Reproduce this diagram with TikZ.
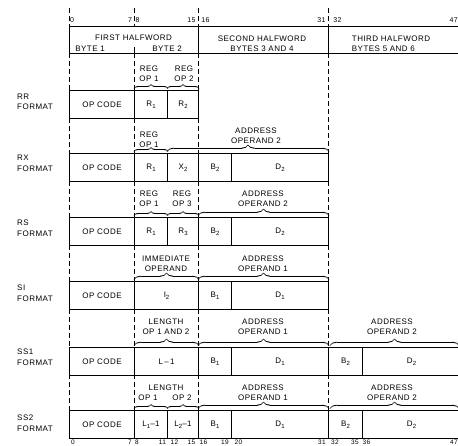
\documentclass[tikz,border=0pt]{standalone}
\usepackage{fontspec}
\setmainfont{Liberation Sans}[LetterSpace=6]
\usetikzlibrary{decorations.pathreplacing,calligraphy}
\newcommand{\lowsub}[1]{\raisebox{-2.2pt}{\fontsize{6}{6}\selectfont #1}}
\begin{document}
\begin{tikzpicture}[x=1pt,y=-1pt,
  every node/.style={font=\fontsize{8}{10}\selectfont, inner sep=0pt},
  cell/.style={draw, line width=1.1pt, minimum height=28pt, anchor=north west},
  hdr/.style={draw, line width=1.1pt, minimum height=27pt, anchor=north west},
  note/.style={align=center},
  lab/.style={align=left, anchor=west, font=\fontsize{8}{10.5}\selectfont},
  tick/.style={font=\fontsize{7}{8}\selectfont},
  dl/.style={line width=1pt, dash pattern=on 5pt off 3pt},
  br/.style={decorate, decoration={calligraphic brace, amplitude=#1}, line width=1.1pt},
  br/.default=6.5pt]
\useasboundingbox (0,0) rectangle (458,445);
\clip (0,0) rectangle (458,445);

% ---------- header ----------
\node[hdr, minimum width=129pt] (hw1) at (69,26) {};
\node[hdr, minimum width=130pt] (hw2) at (198,26) {};
\node[hdr, minimum width=132pt] (hw3) at (328,26) {};
\node (hw1t) at (133.5,38) {FIRST HALFWORD};
\node (hw1a) at (90,49) {BYTE 1};
\node (hw1b) at (167,49) {BYTE 2};
\draw[line width=1pt] (134,47) -- (134,53);
\node[align=center] (hw2t) at (262,43.5) {SECOND HALFWORD\\BYTES 3 AND 4};
\node[align=left] (hw3t) at (391,43.5) {THIRD HALFWORD\\BYTES 5 AND 6};

% top ticks
\foreach \x in {69,134,198,328} \draw[dl] (\x,8) -- (\x,26);
\node[tick] (t0) at (72,20) {0};
\node[tick] (t7) at (130,20) {7};
\node[tick] (t8) at (137.5,20) {8};
\node[tick] (t15) at (191.5,20) {15};
\node[tick] (t16) at (205.5,20) {16};
\node[tick] (t31) at (321.5,20) {31};
\node[tick] (t32) at (337.5,20) {32};
\node[tick, anchor=east] (t47) at (458,20) {47};

% ---------- dashed guides ----------
\foreach \x in {69,134,198} \draw[dl] (\x,53) -- (\x,90);
\draw[dl] (328,53) -- (328,153);
\foreach \x in {69,134,198} \draw[dl] (\x,118) -- (\x,153);
\foreach \a/\b in {181/217,245/281,309/347,374/410}
  \foreach \x in {69,134,198,328} \draw[dl] (\x,\a) -- (\x,\b);

% ---------- RR ----------
\node[lab] (rr-l) at (17,102) {RR\\FORMAT};
\node[cell, minimum width=65pt] (rr-op) at (69,90) {OP CODE};
\node[cell, minimum width=33pt] (rr-r1) at (134,90) {R\lowsub{1}};
\node[cell, minimum width=31pt] (rr-r2) at (167,90) {R\lowsub{2}};
\node[note] (rr-n1) at (149,74) {REG\\OP 1};
\node[note] (rr-n2) at (184,74) {REG\\OP 2};
\draw[br=4pt] ([yshift=1.5pt]rr-r1.north west) -- ([yshift=1.5pt]rr-r1.north east);
\draw[br=4pt] ([yshift=1.5pt]rr-r2.north west) -- ([yshift=1.5pt]rr-r2.north east);

% ---------- RX ----------
\node[lab] (rx-l) at (17,163.5) {RX\\FORMAT};
\node[cell, minimum width=65pt] (rx-op) at (69,153) {OP CODE};
\node[cell, minimum width=33pt] (rx-r1) at (134,153) {R\lowsub{1}};
\node[cell, minimum width=31pt] (rx-x2) at (167,153) {X\lowsub{2}};
\node[cell, minimum width=33pt] (rx-b2) at (198,153) {B\lowsub{2}};
\node[cell, minimum width=97pt] (rx-d2) at (231,153) {D\lowsub{2}};
\node[note] (rx-n1) at (149,140) {REG\\OP 1};
\node[note] (rx-n2) at (256,135.5) {ADDRESS\\OPERAND 2};
\draw[br=4pt] ([yshift=1.5pt]rx-r1.north west) -- ([yshift=1.5pt]rx-r1.north east);
\draw[br] ([yshift=1.5pt]rx-x2.north west) -- ([yshift=1.5pt]rx-d2.north east);

% ---------- RS ----------
\node[lab] (rs-l) at (17,228) {RS\\FORMAT};
\node[cell, minimum width=65pt] (rs-op) at (69,217) {OP CODE};
\node[cell, minimum width=33pt] (rs-r1) at (134,217) {R\lowsub{1}};
\node[cell, minimum width=31pt] (rs-r3) at (167,217) {R\lowsub{3}};
\node[cell, minimum width=33pt] (rs-b2) at (198,217) {B\lowsub{2}};
\node[cell, minimum width=97pt] (rs-d2) at (231,217) {D\lowsub{2}};
\node[note] (rs-n1) at (149,199) {REG\\OP 1};
\node[note] (rs-n3) at (182,199) {REG\\OP 3};
\node[note] (rs-n2) at (263,199) {ADDRESS\\OPERAND 2};
\draw[br=4pt] ([yshift=1.5pt]rs-r1.north west) -- ([yshift=1.5pt]rs-r1.north east);
\draw[br=4pt] ([yshift=1.5pt]rs-r3.north west) -- ([yshift=1.5pt]rs-r3.north east);
\draw[br] ([yshift=1.5pt]rs-b2.north west) -- ([yshift=1.5pt]rs-d2.north east);

% ---------- SI ----------
\node[lab] (si-l) at (17,293) {SI\\FORMAT};
\node[cell, minimum width=65pt] (si-op) at (69,281) {OP CODE};
\node[cell, minimum width=64pt] (si-i2) at (134,281) {I\lowsub{2}};
\node[cell, minimum width=33pt] (si-b1) at (198,281) {B\lowsub{1}};
\node[cell, minimum width=97pt] (si-d1) at (231,281) {D\lowsub{1}};
\node[note] (si-n1) at (166,263.5) {IMMEDIATE\\OPERAND};
\node[note] (si-n2) at (263,263.5) {ADDRESS\\OPERAND 1};
\draw[br] ([yshift=1.5pt]si-i2.north west) -- ([yshift=1.5pt]si-i2.north east);
\draw[br] ([yshift=1.5pt]si-b1.north west) -- ([yshift=1.5pt]si-d1.north east);

% ---------- SS1 ----------
\node[lab] (ss1-l) at (17,357) {SS1\\FORMAT};
\node[cell, minimum width=65pt] (ss1-op) at (69,347) {OP CODE};
\node[cell, minimum width=64pt] (ss1-l1) at (134,347) {L\,--\,1};
\node[cell, minimum width=33pt] (ss1-b1) at (198,347) {B\lowsub{1}};
\node[cell, minimum width=97pt] (ss1-d1) at (231,347) {D\lowsub{1}};
\node[cell, minimum width=34pt] (ss1-b2) at (328,347) {B\lowsub{2}};
\node[cell, minimum width=98pt] (ss1-d2) at (362,347) {D\lowsub{2}};
\node[note] (ss1-n1) at (166,327) {LENGTH\\OP 1 AND 2};
\node[note] (ss1-n2) at (263,327) {ADDRESS\\OPERAND 1};
\node[note] (ss1-n3) at (392,327) {ADDRESS\\OPERAND 2};
\draw[br] ([yshift=1.5pt]ss1-l1.north west) -- ([yshift=1.5pt]ss1-l1.north east);
\draw[br] ([yshift=1.5pt]ss1-b1.north west) -- ([yshift=1.5pt]ss1-d1.north east);
\draw[br] ([xshift=2pt,yshift=1.5pt]ss1-b2.north west) -- ([xshift=-2pt,yshift=1.5pt]ss1-d2.north east);

% ---------- SS2 ----------
\node[lab] (ss2-l) at (17,423) {SS2\\FORMAT};
\node[cell, minimum width=65pt] (ss2-op) at (69,410) {OP CODE};
\node[cell, minimum width=33pt] (ss2-l1) at (134,410) {L\lowsub{1}--1};
\node[cell, minimum width=31pt] (ss2-l2) at (167,410) {L\lowsub{2}--1};
\node[cell, minimum width=33pt] (ss2-b1) at (198,410) {B\lowsub{1}};
\node[cell, minimum width=97pt] (ss2-d1) at (231,410) {D\lowsub{1}};
\node[cell, minimum width=34pt] (ss2-b2) at (328,410) {B\lowsub{2}};
\node[cell, minimum width=98pt] (ss2-d2) at (362,410) {D\lowsub{2}};
\node (ss2-len) at (166,388) {LENGTH};
\node (ss2-o1) at (148,398) {OP 1};
\node (ss2-o2) at (182,398) {OP 2};
\node[note] (ss2-n2) at (263,393) {ADDRESS\\OPERAND 1};
\node[note] (ss2-n3) at (392,393) {ADDRESS\\OPERAND 2};
\draw[br=4pt] ([yshift=1.5pt]ss2-l1.north west) -- ([yshift=1.5pt]ss2-l1.north east);
\draw[br=4pt] ([yshift=1.5pt]ss2-l2.north west) -- ([yshift=1.5pt]ss2-l2.north east);
\draw[br] ([yshift=1.5pt]ss2-b1.north west) -- ([yshift=1.5pt]ss2-d1.north east);
\draw[br] ([xshift=2pt,yshift=1.5pt]ss2-b2.north west) -- ([xshift=-2pt,yshift=1.5pt]ss2-d2.north east);

% ---------- bottom bit numbers ----------
\begin{scope}[every node/.style={font=\fontsize{6.5}{7}\selectfont, inner sep=0pt, anchor=base}]
\node (b0) at (73,444.5) {0};
\node (b7) at (130,444.5) {7};
\node (b8) at (137,444.5) {8};
\node (b11) at (162.5,444.5) {11};
\node (b12) at (174.5,444.5) {12};
\node (b15) at (191.5,444.5) {15};
\node (b16) at (203.5,444.5) {16};
\node (b19) at (225,444.5) {19};
\node (b20) at (238.5,444.5) {20};
\node (b31) at (322,444.5) {31};
\node (b32) at (335,444.5) {32};
\node (b35) at (355,444.5) {35};
\node (b36) at (366.5,444.5) {36};
\node[anchor=base east] (b47) at (458,444.5) {47};
\end{scope}
\end{tikzpicture}
\end{document}
